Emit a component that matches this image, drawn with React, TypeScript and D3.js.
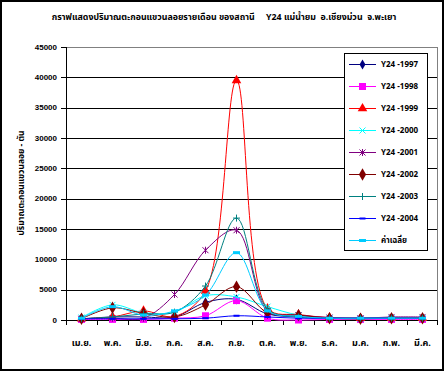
import React from 'react';
import * as d3 from 'd3';

// months of the water year (Apr - Mar)
const months = ['เม.ย.', 'พ.ค.', 'มิ.ย.', 'ก.ค.', 'ส.ค.', 'ก.ย.', 'ต.ค.', 'พ.ย.', 'ธ.ค.', 'ม.ค.', 'ก.พ.', 'มี.ค.'];
const yTicks = [0, 5000, 10000, 15000, 20000, 25000, 30000, 35000, 40000, 45000];

const seriesNames = ['Y24 -1997', 'Y24 -1998', 'Y24 -1999', 'Y24 -2000', 'Y24 -2001', 'Y24 -2002', 'Y24 -2003', 'Y24 -2004', 'ค่าเฉลี่ย'];

const y1997 = [200, 500, 500, 500, 2900, 3400, 1000, 500, 300, 300, 300, 300];
const y1998 = [100, 100, 100, 300, 700, 3200, 300, 0, 100, 100, 100, 100];
const y1999 = [200, 500, 1500, 600, 4800, 39500, 1900, 900, 400, 300, 300, 300];
const y2000 = [400, 2500, 1200, 1300, 4000, 3800, 2200, 800, 300, 200, 300, 300];
const y2001 = [200, 300, 300, 4200, 11500, 14800, 1500, 800, 400, 300, 500, 500];
const y2002 = [200, 2000, 1100, 500, 2500, 5500, 1200, 800, 300, 200, 300, 300];
const y2003 = [200, 500, 1000, 1300, 5600, 16800, 1800, 500, 300, 300, 300, 300];
const y2004 = [200, 200, 200, 200, 300, 700, 500, 300, 300, 300, 300, 300];
const average = [300, 2200, 800, 1500, 4100, 11100, 1500, 600, 300, 300, 300, 300];

const seriesValues = [y1997, y1998, y1999, y2000, y2001, y2002, y2003, y2004, average];
const colors = ['#000080', '#FF00FF', '#FF0000', '#00FFFF', '#800080', '#800000', '#008080', '#0000FF', '#00CCFF'];
const markers = ['diamond', 'square', 'triangle', 'x', 'star', 'diamond2', 'plus', 'dash', 'dash2'];

const W = 444;
const H = 371;
const FONT = "Tahoma, 'Noto Sans Thai', 'Noto Sans', 'DejaVu Sans', sans-serif";

const Marker = ({ type, color, cx, cy }) => {
  const t = `translate(${cx},${cy})`;
  switch (type) {
    case 'diamond':
      return <path transform={t} d={d3.symbol(d3.symbolDiamond, 30)()} fill={color} />;
    case 'diamond2':
      return <path transform={t} d={d3.symbol(d3.symbolDiamond, 45)()} fill={color} />;
    case 'square':
      return <rect x={cx - 3.5} y={cy - 3.5} width={7} height={7} fill={color} />;
    case 'triangle':
      return <path transform={t} d={d3.symbol(d3.symbolTriangle, 40)()} fill={color} />;
    case 'x':
      return <path transform={t} d="M-3,-3L3,3M-3,3L3,-3" stroke={color} strokeWidth={1} />;
    case 'star':
      return <path transform={t} d="M-3,-3L3,3M-3,3L3,-3M0,-3.5L0,3.5" stroke={color} strokeWidth={1} />;
    case 'plus':
      return <path transform={t} d="M-3.5,0L3.5,0M0,-3.5L0,3.5" stroke={color} strokeWidth={1} />;
    case 'dash':
      return <rect x={cx - 3} y={cy - 1} width={6} height={2} fill={color} />;
    case 'dash2':
      return <rect x={cx - 3.5} y={cy - 1.5} width={7} height={3} fill={color} />;
    default:
      return null;
  }
};

const App = () => {
  const left = 66, right = 438, top = 47, bottom = 320;

  const x = d3.scaleBand().domain(months).range([left, right]);
  const y = d3.scaleLinear().domain([0, 45000]).range([bottom, top]);
  const cx = (m) => x(m) + x.bandwidth() / 2;

  // smoothed lines, like the spreadsheet's "smoothed line" option
  const line = d3.line()
    .x((d, i) => cx(months[i]))
    .y((d) => y(d))
    .curve(d3.curveCatmullRom.alpha(0.5));

  const legendX = 344, legendY = 53, legendW = 83, legendH = 197;

  return (
    <svg width={W} height={H} style={{ position: 'absolute', left: 0, top: 0, background: '#fff' }} fontFamily={FONT}>
      <rect x={1} y={1} width={W - 2} height={H - 2} fill="#fff" stroke="#000" strokeWidth={2} />

      <text x={224} y={20} textAnchor="middle" fontSize={8.8} fontWeight="bold" xmlSpace="preserve">
        กราฟแสดงปริมาณตะกอนแขวนลอยรายเดือน ของสถานี     Y24 แม่น้ำยม  อ.เชียงม่วน  จ.พะเยา
      </text>

      {/* gridlines */}
      {yTicks.slice(1, -1).map((t) => (
        <line key={t} x1={left} x2={right} y1={Math.round(y(t)) + 0.5} y2={Math.round(y(t)) + 0.5} stroke="#000" />
      ))}
      <line x1={left} x2={right} y1={top + 0.5} y2={top + 0.5} stroke="#808080" />
      <line x1={right - 0.5} x2={right - 0.5} y1={top} y2={bottom} stroke="#808080" />

      {/* y axis */}
      <line x1={left + 0.5} x2={left + 0.5} y1={top} y2={bottom + 1} stroke="#000" />
      {yTicks.map((t) => (
        <g key={t}>
          <line x1={left - 5} x2={left} y1={Math.round(y(t)) + 0.5} y2={Math.round(y(t)) + 0.5} stroke="#000" />
          <text x={57} y={y(t)} dy="0.35em" textAnchor="end" fontSize={8} fontWeight="bold" fontFamily="'Liberation Sans', Arial, sans-serif">{t}</text>
        </g>
      ))}
      <text transform="translate(24,183) rotate(-90)" textAnchor="middle" fontSize={8.5} fontWeight="bold">
        ปริมาณตะกอนแขวนลอย - ตัน
      </text>

      {/* x axis */}
      <line x1={left} x2={right} y1={bottom + 0.5} y2={bottom + 0.5} stroke="#000" />
      {months.map((m) => (
        <line key={m} x1={Math.round(x(m)) + 0.5} x2={Math.round(x(m)) + 0.5} y1={bottom} y2={bottom + 5} stroke="#000" />
      ))}
      <line x1={right - 0.5} x2={right - 0.5} y1={bottom} y2={bottom + 5} stroke="#000" />
      {months.map((m) => (
        <text key={m} x={cx(m)} y={346} textAnchor="middle" fontSize={9} fontWeight="bold">{m}</text>
      ))}

      {/* series */}
      {seriesValues.map((vals, s) => (
        <g key={seriesNames[s]}>
          <path d={line(vals)} fill="none" stroke={colors[s]} strokeWidth={1} />
          {vals.map((v, i) => (
            <Marker key={i} type={markers[s]} color={colors[s]} cx={cx(months[i])} cy={y(v)} />
          ))}
        </g>
      ))}

      {/* legend */}
      <rect x={legendX + 0.5} y={legendY + 0.5} width={legendW} height={legendH} fill="#fff" stroke="#000" />
      {seriesNames.map((n, s) => {
        const ly = 64.5 + s * 22;
        return (
          <g key={n}>
            <line x1={349} x2={376} y1={ly} y2={ly} stroke={colors[s]} />
            <Marker type={markers[s]} color={colors[s]} cx={362.5} cy={ly} />
            <text x={381} y={ly} dy="0.35em" fontSize={8} fontWeight="bold">{n}</text>
          </g>
        );
      })}
    </svg>
  );
};

export default App;
